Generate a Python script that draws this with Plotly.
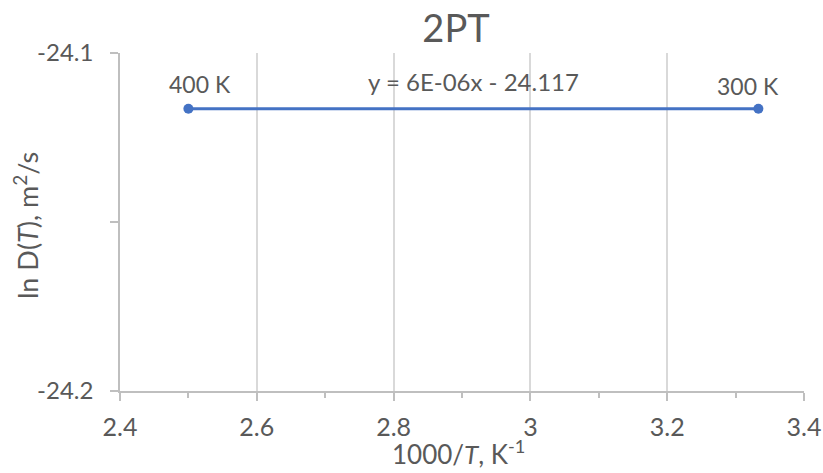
import plotly.graph_objects as go

# Data
inv_T = [2.5, 3.3333]          # 1000/T, K^-1
ln_D = [-24.1165, -24.1165]    # ln D(T), m^2/s
point_labels = ["400 K", "300 K"]
trend_text = "y = 6E-06x - 24.117"

x_tickvals = [2.4, 2.6, 2.8, 3.0, 3.2, 3.4]
x_ticktext = ["2.4", "2.6", "2.8", "3", "3.2", "3.4"]
y_tickvals = [-24.2, -24.1]
y_ticktext = ["-24.2", "-24.1"]
x_title = "1000/<i>T</i>, K<sup>-1</sup>"
y_title = "ln D(<i>T</i>), m<sup>2</sup>/s"

TXT = "#595959"
GRID = "#d9d9d9"
AX = "#bfbfbf"
FONT = "Lato, Open Sans, sans-serif"

W, H = 823, 473
L, R, T, B = 120, 19, 53, 82
PW, PH = W - L - R, H - T - B

fig = go.Figure()
fig.add_trace(go.Scatter(
    x=inv_T, y=ln_D, mode="lines+markers",
    line=dict(color="#4472C4", width=3),
    marker=dict(color="#4472C4", size=10),
    showlegend=False, hoverinfo="skip", cliponaxis=False,
))

# point labels
offsets = [(12, 25), (-10, 23)]
for xv, yv, lab, (dx, dy) in zip(inv_T, ln_D, point_labels, offsets):
    fig.add_annotation(x=xv, y=yv, text=lab, showarrow=False,
                       xshift=dx, yshift=dy,
                       font=dict(family=FONT, size=23, color=TXT))

# trendline label
fig.add_annotation(x=(inv_T[0] + inv_T[1]) / 2, y=ln_D[0], text=trend_text,
                   showarrow=False, xshift=0, yshift=27,
                   font=dict(family=FONT, size=24, color=TXT))

# axis titles
fig.add_annotation(xref="paper", yref="paper", x=(458 - L) / PW, y=-(B - 1) / PH,
                   xanchor="center", yanchor="bottom", text=x_title, showarrow=False,
                   font=dict(family=FONT, size=26, color=TXT))
fig.add_annotation(xref="paper", yref="paper", x=-(L - 26) / PW, y=((H - B) - 226) / PH,
                   xanchor="center", yanchor="middle", text=y_title, showarrow=False,
                   textangle=-90, font=dict(family=FONT, size=27, color=TXT))

fig.update_layout(
    width=W, height=H,
    margin=dict(l=L, r=R, t=T, b=B, autoexpand=False),
    paper_bgcolor="white", plot_bgcolor="white",
    title=dict(text="2PT", x=456 / W, xanchor="center", y=1 - 29 / H, yanchor="middle",
               font=dict(family=FONT, size=38, color=TXT)),
    font=dict(family=FONT, color=TXT),
)

fig.update_xaxes(
    range=[2.4, 3.4], tickvals=x_tickvals, ticktext=x_ticktext,
    showgrid=True, gridcolor=GRID, gridwidth=1.5,
    showline=True, linecolor=AX, linewidth=1.5,
    ticks="outside", ticklen=8, tickcolor=AX, tickwidth=1.5,
    ticklabelstandoff=5, automargin=False,
    minor=dict(dtick=0.1, tick0=2.4, ticks="outside", ticklen=5, tickcolor=AX, showgrid=False),
    tickfont=dict(family=FONT, size=25, color=TXT),
    zeroline=False, mirror=False,
)
fig.update_yaxes(
    range=[-24.2, -24.1], tickvals=y_tickvals, ticktext=y_ticktext,
    showgrid=True, gridcolor=GRID, gridwidth=1.5,
    showline=True, linecolor=AX, linewidth=1.5,
    ticks="outside", ticklen=8, tickcolor=AX, tickwidth=1.5,
    ticklabelstandoff=12, automargin=False,
    minor=dict(dtick=0.05, tick0=-24.2, ticks="outside", ticklen=8, tickcolor=AX, showgrid=False),
    tickfont=dict(family=FONT, size=24, color=TXT),
    zeroline=False,
)

fig.write_html("out.html", config={"displayModeBar": False},
               post_script="document.body.style.margin='0';document.body.style.overflow='hidden';")
